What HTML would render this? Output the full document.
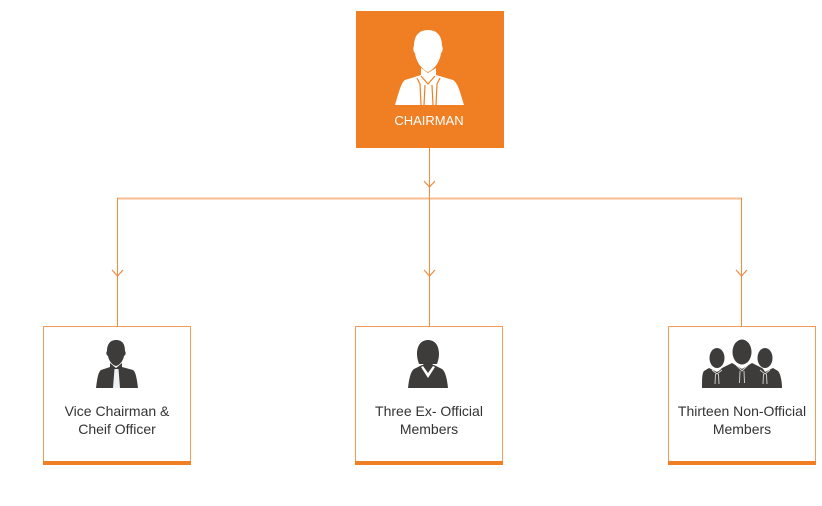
<!DOCTYPE html>
<html><head><meta charset="utf-8"><style>
html,body{margin:0;padding:0;background:#fff;}
svg{display:block;}
text{font-family:"Liberation Sans",sans-serif;}
</style></head><body>
<svg width="822" height="506" viewBox="0 0 822 506" xmlns="http://www.w3.org/2000/svg">
<rect width="822" height="506" fill="#fff"/>
<!-- connectors -->
<line x1="429.5" y1="148" x2="429.5" y2="199" stroke="#F08A3C" stroke-width="1"/>
<line x1="117" y1="198.5" x2="742" y2="198.5" stroke="#F8BE92" stroke-width="2"/>
<line x1="117.5" y1="198" x2="117.5" y2="327" stroke="#F08A3C" stroke-width="1"/>
<line x1="429.5" y1="198" x2="429.5" y2="327" stroke="#F08A3C" stroke-width="1"/>
<line x1="741.5" y1="198" x2="741.5" y2="327" stroke="#F08A3C" stroke-width="1"/>
<!-- chevrons -->
<g fill="none" stroke="#F08A3C" stroke-width="1.2">
<polyline points="424,181 429.5,187 435,181"/>
<polyline points="112,270 117.5,276 123,270"/>
<polyline points="424,270 429.5,276 435,270"/>
<polyline points="736,270 741.5,276 747,270"/>
</g>
<!-- chairman box -->
<rect x="356" y="11" width="148" height="137" fill="#F07F24"/>
<!-- chairman icon -->
<g fill="#fff">
<path d="M428,30 C418,30 414,37 414,46 C413,47 413,52 415,53 C416,61 421,69 428,72 C435,69 440,61 441,53 C443,52 443,47 442,46 C442,37 438,30 428,30 Z"/>
<path d="M421,68 L421,75 L405,80 C401,83 399,92 395,105 L464,105 C460,92 458,83 453,80 L436,75 L436,68 L428,73 Z"/>
</g>
<g fill="none" stroke="#F07F24" stroke-width="1.2">
<polyline points="417,78 420,84 421,105"/>
<polyline points="440,78 437,84 436,105"/>
<polyline points="421,76 428,84 435,76"/>
<polyline points="425,85 424,105"/>
<polyline points="432,85 433,105"/>
</g>
<text x="429" y="125" font-size="13" fill="#fff" text-anchor="middle">CHAIRMAN</text>

<!-- child boxes -->
<g>
<rect x="43.5" y="326.5" width="147" height="137" fill="#fff" stroke="#F39A58" stroke-width="1"/>
<rect x="43" y="461" width="148" height="4" fill="#F07F24"/>
<rect x="355.5" y="326.5" width="147" height="137" fill="#fff" stroke="#F39A58" stroke-width="1"/>
<rect x="355" y="461" width="148" height="4" fill="#F07F24"/>
<rect x="668.5" y="326.5" width="147" height="137" fill="#fff" stroke="#F39A58" stroke-width="1"/>
<rect x="668" y="461" width="148" height="4" fill="#F07F24"/>
</g>

<!-- vice chairman icon -->
<g fill="#3D3C3B">
<path d="M116,340 C109,340 107,346 107,351 C106,352 106,355 108,356 C109,361 112,365 116,366 C120,365 123,361 124,356 C126,355 126,352 125,351 C125,345 123,340 116,340 Z"/>
<path d="M110,363 L110,367 L101,370 C98,372 97,380 96,388 L138,388 C137,380 136,372 133,370 L122,367 L122,363 L116,368 Z"/>
</g>
<path d="M114.5,369 L118.5,369 L120,388 L113,388 Z" fill="#EEF1F3"/>
<text x="117" y="416" font-size="14" fill="#333" text-anchor="middle">Vice Chairman &amp;</text>
<text x="117" y="434" font-size="14" fill="#333" text-anchor="middle">Cheif Officer</text>

<!-- female icon -->
<g fill="#3D3C3B">
<path d="M428,340 C420,340 417,347 417,354 C417,358 418,361 419,364 L423,364 C424,366 426,367 428,367 C430,367 432,366 433,364 L437,364 C438,361 439,358 439,354 C439,347 436,340 428,340 Z"/>
<path d="M422,365 L414,369 C411,371 409,378 408,388 L448,388 C447,378 445,371 442,369 L434,365 Z"/>
</g>
<path d="M421,367 L428,378 L435,367 L433,366 L428,373 L423,366 Z" fill="#fff"/>
<text x="429" y="416" font-size="14" fill="#333" text-anchor="middle">Three Ex- Official</text>
<text x="429" y="434" font-size="14" fill="#333" text-anchor="middle">Members</text>

<!-- group icon -->
<g fill="#3D3C3B">
<ellipse cx="717" cy="358" rx="7.5" ry="10"/>
<path d="M709,368 L704,371 C702,373 702,380 702,388 L732,388 L732,370 L725,367 L717,372 Z"/>
<ellipse cx="765" cy="358" rx="7.5" ry="10"/>
<path d="M773,368 L778,371 C780,373 782,380 782,388 L752,388 L752,370 L759,367 L765,372 Z"/>
<ellipse cx="742" cy="352" rx="9.5" ry="12.5"/>
<path d="M732,363 L722,368 C718,371 716,380 716,388 L768,388 C768,380 766,371 762,368 L752,363 L742,369 Z"/>
</g>
<g stroke="#fff" stroke-width="0.9" fill="none" opacity="0.8">
<polyline points="736,365 742,371 748,365"/>
<polyline points="712,370 717,374 722,370"/>
<polyline points="760,370 765,374 770,370"/>
<polyline points="740,371 739.5,383"/>
<polyline points="744,371 744.5,383"/>
<polyline points="715.5,374 715,384"/>
<polyline points="718.5,374 719,384"/>
<polyline points="763.5,374 763,384"/>
<polyline points="766.5,374 767,384"/>
</g>
<text x="742" y="416" font-size="14" fill="#333" text-anchor="middle">Thirteen Non-Official</text>
<text x="742" y="434" font-size="14" fill="#333" text-anchor="middle">Members</text>
</svg>
</body></html>
